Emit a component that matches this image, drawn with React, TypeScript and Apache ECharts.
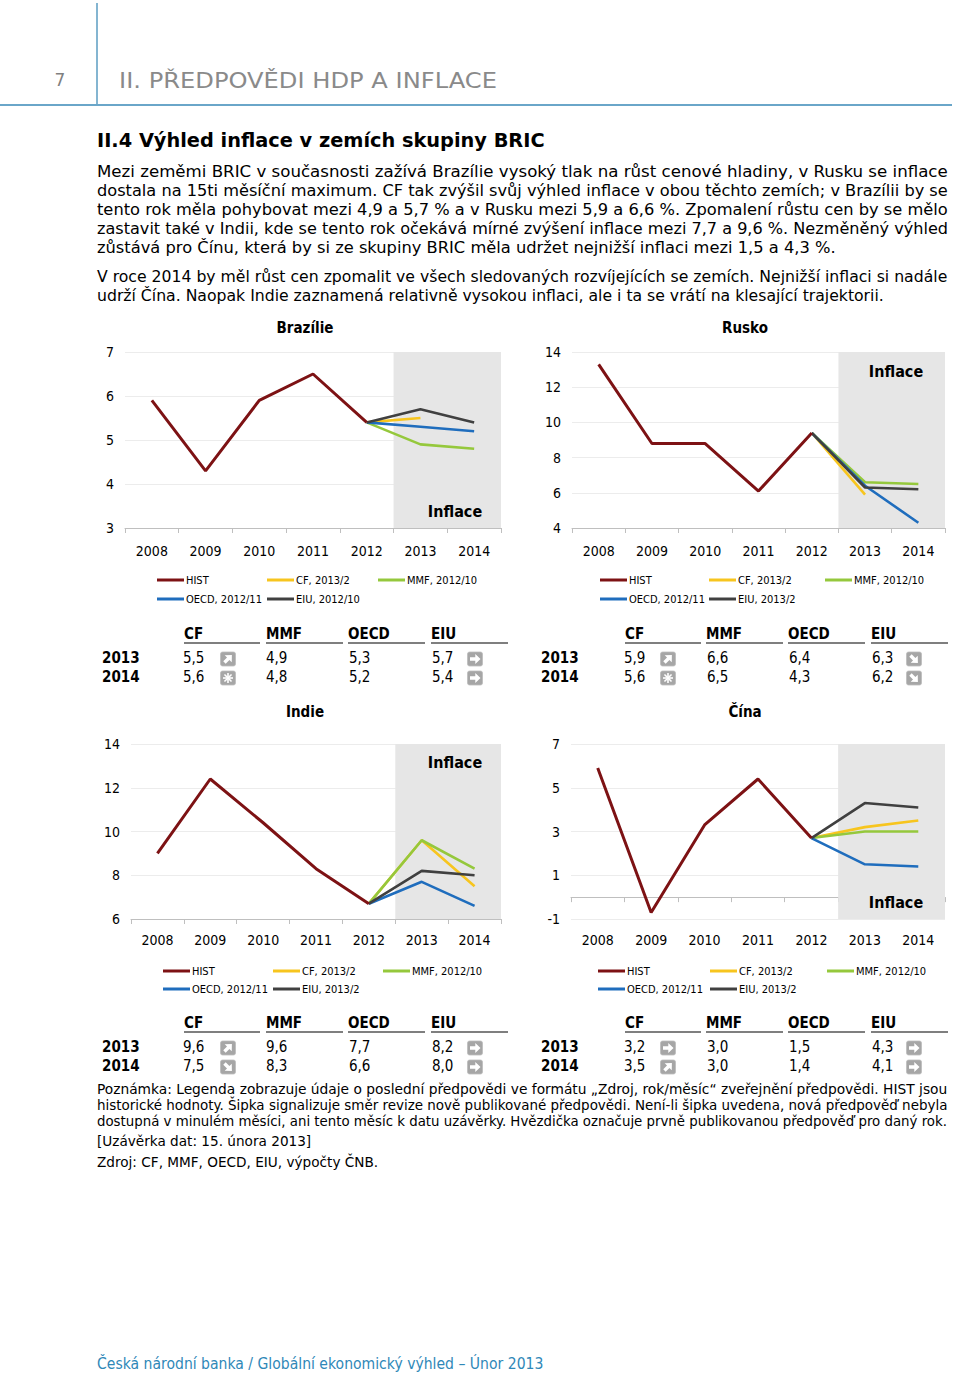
import React, { useEffect, useRef } from 'react';
import * as echarts from 'echarts';

// ---------- DATA ----------
const years = ['2008', '2009', '2010', '2011', '2012', '2013', '2014'];
const countryNames = ['Brazílie', 'Rusko', 'Indie', 'Čína'];

const histBrazil = [5.9, 4.3, 5.9, 6.5, 5.4];
const histRussia = [13.3, 8.8, 8.8, 6.1, 9.4];
const histIndia = [9.0, 12.4, 10.4, 8.3, 6.7];
const histChina = [5.9, -0.7, 3.3, 5.4, 2.7];

// forecasts drawn in the charts: [2013, 2014]
const cfBrazil = [5.5, null];
const mmfBrazil = [4.9, 4.8];
const oecdBrazil = [5.3, 5.2];
const eiuBrazil = [5.7, 5.4];
const cfRussia = [5.9, null];
const mmfRussia = [6.6, 6.5];
const oecdRussia = [6.4, 4.3];
const eiuRussia = [6.3, 6.2];
const cfIndia = [9.6, 7.5];
const mmfIndia = [9.6, 8.3];
const oecdIndia = [7.7, 6.6];
const eiuIndia = [8.2, 8.0];
const cfChina = [3.2, 3.5];
const mmfChina = [3.0, 3.0];
const oecdChina = [1.5, 1.4];
const eiuChina = [4.3, 4.1];

// y axis ticks
const yTicksBrazil = [3, 4, 5, 6, 7];
const yTicksRussia = [4, 6, 8, 10, 12, 14];
const yTicksIndia = [6, 8, 10, 12, 14];
const yTicksChina = [-1, 1, 3, 5, 7];

// legend labels
const legendHist = 'HIST';
const legendCF = 'CF, 2013/2';
const legendMMF = 'MMF, 2012/10';
const legendOECD = 'OECD, 2012/11';
const legendEIU = ['EIU, 2012/10', 'EIU, 2013/2', 'EIU, 2013/2', 'EIU, 2013/2'];

// tables: columns CF, MMF, OECD, EIU
const tableCols = ['CF', 'MMF', 'OECD', 'EIU'];
const tableRows = ['2013', '2014'];
const tblBrazil2013 = [5.5, 4.9, 5.3, 5.7];
const tblBrazil2014 = [5.6, 4.8, 5.2, 5.4];
const tblRussia2013 = [5.9, 6.6, 6.4, 6.3];
const tblRussia2014 = [5.6, 6.5, 4.3, 6.2];
const tblIndia2013 = [9.6, 9.6, 7.7, 8.2];
const tblIndia2014 = [7.5, 8.3, 6.6, 8.0];
const tblChina2013 = [3.2, 3.0, 1.5, 4.3];
const tblChina2014 = [3.5, 3.0, 1.4, 4.1];

// revision icons [2013, 2014]
const revBrazilCF = ['up', 'new'];
const revBrazilEIU = ['right', 'right'];
const revRussiaCF = ['up', 'new'];
const revRussiaEIU = ['down', 'down'];
const revIndiaCF = ['up', 'down'];
const revIndiaEIU = ['right', 'right'];
const revChinaCF = ['right', 'up'];
const revChinaEIU = ['right', 'right'];

// texts
const pageNumber = '7';
const chapterTitle = 'II. PŘEDPOVĚDI HDP A INFLACE';
const sectionTitle = 'II.4 Výhled inflace v zemích skupiny BRIC';
const para1 = [
  'Mezi zeměmi BRIC v současnosti zažívá Brazílie vysoký tlak na růst cenové hladiny, v Rusku se inflace',
  'dostala na 15ti měsíční maximum. CF tak zvýšil svůj výhled inflace v obou těchto zemích; v Brazílii by se',
  'tento rok měla pohybovat mezi 4,9 a 5,7 % a v Rusku mezi 5,9 a 6,6 %. Zpomalení růstu cen by se mělo',
  'zastavit také v Indii, kde se tento rok očekává mírné zvýšení inflace mezi 7,7 a 9,6 %. Nezměněný výhled',
  'zůstává pro Čínu, která by si ze skupiny BRIC měla udržet nejnižší inflaci mezi 1,5 a 4,3 %.',
];
const para2 = [
  'V roce 2014 by měl růst cen zpomalit ve všech sledovaných rozvíjejících se zemích. Nejnižší inflaci si nadále',
  'udrží Čína. Naopak Indie zaznamená relativně vysokou inflaci, ale i ta se vrátí na klesající trajektorii.',
];
const notes = [
  'Poznámka: Legenda zobrazuje údaje o poslední předpovědi ve formátu „Zdroj, rok/měsíc“ zveřejnění předpovědi. HIST jsou',
  'historické hodnoty. Šipka signalizuje směr revize nově publikované předpovědi. Není-li šipka uvedena, nová předpověď nebyla',
  'dostupná v minulém měsíci, ani tento měsíc k datu uzávěrky. Hvězdička označuje prvně publikovanou předpověď pro daný rok.',
];
const closingDate = '[Uzávěrka dat: 15. února 2013]';
const sourceText = 'Zdroj: CF, MMF, OECD, EIU, výpočty ČNB.';
const footerText = 'Česká národní banka / Globální ekonomický výhled – Únor 2013';
const bandLabel = 'Inflace';

// ---------- STYLE / LAYOUT ----------
const COND = "'DejaVu Sans Condensed', 'DejaVu Sans', sans-serif";
const REG = "'DejaVu Sans', Verdana, sans-serif";
const C_HIST = '#7d1214';
const C_CF = '#f7c51e';
const C_MMF = '#95c83c';
const C_OECD = '#1f6dbd';
const C_EIU = '#404040';
const BAND = '#e6e6e6';

const layouts = [
  { grid: { left: 125, top: 352, width: 376, height: 176 }, title: [305, 328], band: [455, 511], legX: [157, 267, 378], legY: [580, 599], tabY: [634, 658, 677], rowX: 102, colX: [184, 266, 348, 431], colEnd: [260, 343, 425, 508], valX: [183, 266, 349, 432], iconX: [228, 475], labelMargin: 16 },
  { grid: { left: 572, top: 352, width: 373, height: 176 }, title: [745, 328], band: [896, 371], legX: [600, 709, 825], legY: [580, 599], tabY: [634, 658, 677], rowX: 541, colX: [625, 706, 788, 871], colEnd: [701, 783, 865, 948], valX: [624, 707, 789, 872], iconX: [668, 914], labelMargin: 16 },
  { grid: { left: 131, top: 744, width: 370, height: 175 }, title: [305, 712], band: [455, 762], legX: [163, 273, 383], legY: [971, 989], tabY: [1023, 1047, 1066], rowX: 102, colX: [184, 266, 348, 431], colEnd: [260, 343, 425, 508], valX: [183, 266, 349, 432], iconX: [228, 475], labelMargin: 14 },
  { grid: { left: 571, top: 744, width: 374, height: 175 }, title: [745, 712], band: [896, 902], legX: [598, 710, 827], legY: [971, 989], tabY: [1023, 1047, 1066], rowX: 541, colX: [625, 706, 788, 871], colEnd: [701, 783, 865, 948], valX: [624, 707, 789, 872], iconX: [668, 914], labelMargin: 14 },
];

// ---------- helpers ----------
let measureCtx: CanvasRenderingContext2D | null = null;
function measure(text: string, font: string) {
  if (!measureCtx) measureCtx = document.createElement('canvas').getContext('2d');
  measureCtx!.font = font;
  return measureCtx!.measureText(text).width;
}
function clamp(v: number, a: number, b: number) {
  return Math.max(a, Math.min(b, v));
}
function fmt(v: number) {
  return v.toFixed(1).replace('.', ',');
}
function txt(text: string, x: number, y: number, o: any = {}) {
  return {
    type: 'text', x, y, scaleX: o.scaleX ?? 1, silent: true, z: 10,
    style: {
      text, fill: o.fill ?? '#000', fontSize: o.size ?? 15, fontFamily: o.family ?? COND,
      fontWeight: o.weight ?? 'normal', align: o.align ?? 'left', verticalAlign: 'middle',
    },
  };
}
// justified paragraph: every line but the last is stretched to the full width
function paragraph(lines: string[], x: number, y0: number, dy: number, size: number, width: number) {
  const font = `normal ${size}px ${COND}`;
  const scales = lines.map((l) => clamp(width / measure(l, font), 0.8, 1.3));
  const just = scales.slice(0, -1);
  const avg = just.length ? just.reduce((a, b) => a + b, 0) / just.length : 1;
  const els = lines.map((l, i) =>
    txt(l, x, y0 + i * dy, { size, scaleX: i < lines.length - 1 ? scales[i] : Math.min(avg, scales[i]) })
  );
  return { els, avg };
}
function icon(kind: string, x: number, y: number) {
  const children: any[] = [
    { type: 'rect', shape: { x: -7.5, y: -7, width: 15, height: 14, r: 2 }, style: { fill: '#a6a6a6', stroke: '#bdbdbd', lineWidth: 0.8 } },
  ];
  const arrowPts = [[-5, -1.7], [0.3, -1.7], [0.3, -5], [5.5, 0], [0.3, 5], [0.3, 1.7], [-5, 1.7]];
  if (kind === 'new') {
    [0, Math.PI / 4, Math.PI / 2, (3 * Math.PI) / 4].forEach((a) => {
      children.push({
        type: 'line',
        shape: { x1: -5 * Math.cos(a), y1: -5 * Math.sin(a), x2: 5 * Math.cos(a), y2: 5 * Math.sin(a) },
        style: { stroke: '#fff', lineWidth: 1.6 },
      });
    });
  } else {
    const rot = kind === 'up' ? Math.PI / 4 : kind === 'down' ? -Math.PI / 4 : 0;
    children.push({ type: 'polygon', rotation: rot, shape: { points: arrowPts }, style: { fill: '#fff' } });
  }
  return { type: 'group', x, y, silent: true, z: 10, children };
}

function buildOption() {
  const hists = [histBrazil, histRussia, histIndia, histChina];
  const fcs = [
    [cfBrazil, mmfBrazil, oecdBrazil, eiuBrazil],
    [cfRussia, mmfRussia, oecdRussia, eiuRussia],
    [cfIndia, mmfIndia, oecdIndia, eiuIndia],
    [cfChina, mmfChina, oecdChina, eiuChina],
  ];
  const ticks = [yTicksBrazil, yTicksRussia, yTicksIndia, yTicksChina];
  const tabs = [
    [tblBrazil2013, tblBrazil2014], [tblRussia2013, tblRussia2014],
    [tblIndia2013, tblIndia2014], [tblChina2013, tblChina2014],
  ];
  const revs = [
    [revBrazilCF, revBrazilEIU], [revRussiaCF, revRussiaEIU],
    [revIndiaCF, revIndiaEIU], [revChinaCF, revChinaEIU],
  ];
  const colors = [C_CF, C_MMF, C_OECD, C_EIU];

  const grid: any[] = [];
  const xAxis: any[] = [];
  const yAxis: any[] = [];
  const series: any[] = [];
  const legend: any[] = [];
  const graphic: any[] = [];

  layouts.forEach((L, i) => {
    grid.push({ ...L.grid, containLabel: false });
    xAxis.push({
      type: 'category', gridIndex: i, data: years, boundaryGap: true,
      axisLine: { lineStyle: { color: '#bfbfbf', width: 1 } },
      axisTick: { show: true, length: 5, lineStyle: { color: '#bfbfbf' }, interval: 0 },
      axisLabel: { color: '#000', fontSize: 14, fontFamily: COND, margin: L.labelMargin, interval: 0 },
      splitLine: { show: false },
    });
    xAxis.push({ type: 'value', gridIndex: i, min: 0, max: years.length, show: false });
    const t = ticks[i];
    yAxis.push({
      type: 'value', gridIndex: i, min: t[0], max: t[t.length - 1],
      axisLine: { show: false },
      axisTick: { show: false, customValues: t },
      axisLabel: { color: '#000', fontSize: 14, fontFamily: COND, margin: 11, customValues: t },
      splitLine: { show: true, lineStyle: { color: '#ececec', width: 1 } },
    });
    // forecast band (2013–2014)
    series.push({
      type: 'line', xAxisIndex: 2 * i + 1, yAxisIndex: i, data: [], silent: true, z: 1,
      markArea: { silent: true, itemStyle: { color: BAND }, data: [[{ xAxis: 5 }, { xAxis: years.length }]] },
    });
    const h = hists[i];
    const names = [legendCF, legendMMF, legendOECD, legendEIU[i]];
    series.push({
      name: legendHist, type: 'line', xAxisIndex: 2 * i, yAxisIndex: i, z: 4,
      data: [...h, null, null], symbol: 'none', connectNulls: false,
      lineStyle: { color: C_HIST, width: 3 }, itemStyle: { color: C_HIST },
    });
    fcs[i].forEach((f, k) => {
      series.push({
        name: names[k], type: 'line', xAxisIndex: 2 * i, yAxisIndex: i, z: 3,
        data: [null, null, null, null, h[h.length - 1], ...f], symbol: 'none', connectNulls: false,
        lineStyle: { color: colors[k], width: 2.6 }, itemStyle: { color: colors[k] },
      });
    });
    // legends
    const legItems = [
      [legendHist, L.legX[0], L.legY[0]], [legendCF, L.legX[1], L.legY[0]], [legendMMF, L.legX[2], L.legY[0]],
      [legendOECD, L.legX[0], L.legY[1]], [legendEIU[i], L.legX[1], L.legY[1]],
    ];
    legItems.forEach(([n, x, y]) => {
      legend.push({
        data: [n], left: x, top: (y as number) - 7, padding: 0, itemGap: 0, icon: 'rect',
        itemWidth: 27, itemHeight: 3, selectedMode: false,
        textStyle: { fontSize: 11, fontFamily: COND, color: '#000', lineHeight: 14, padding: [0, 0, 0, -3] },
      });
    });
    // chart title & band label
    graphic.push(txt(countryNames[i], L.title[0], L.title[1], { weight: 'bold', size: 15, align: 'center' }));
    graphic.push(txt(bandLabel, L.band[0], L.band[1], { weight: 'bold', size: 16, align: 'center' }));
    // table
    tableCols.forEach((c, k) => {
      graphic.push(txt(c, L.colX[k], L.tabY[0], { weight: 'bold', size: 15 }));
      graphic.push({ type: 'line', silent: true, shape: { x1: L.colX[k], y1: L.tabY[0] + 9, x2: L.colEnd[k], y2: L.tabY[0] + 9 }, style: { stroke: '#000', lineWidth: 1.2 } });
    });
    tableRows.forEach((r, j) => {
      const y = L.tabY[j + 1];
      graphic.push(txt(r, L.rowX, y, { weight: 'bold', size: 15 }));
      tabs[i][j].forEach((v, k) => graphic.push(txt(fmt(v), L.valX[k], y, { size: 15 })));
      graphic.push(icon(revs[i][0][j], L.iconX[0], y + 1));
      graphic.push(icon(revs[i][1][j], L.iconX[1], y + 1));
    });
  });

  // page header
  graphic.push({ type: 'line', silent: true, shape: { x1: 97, y1: 3, x2: 97, y2: 104 }, style: { stroke: '#5b9cc2', lineWidth: 1.5 } });
  graphic.push({ type: 'line', silent: true, shape: { x1: 0, y1: 105, x2: 952, y2: 105 }, style: { stroke: '#6aa6c9', lineWidth: 2 } });
  graphic.push(txt(pageNumber, 60, 80, { size: 17, family: REG, fill: '#808080', align: 'center' }));
  const titleFont = `normal 22px ${REG}`;
  graphic.push(txt(chapterTitle, 119, 80, { size: 22, family: REG, fill: '#8a8a8a', scaleX: clamp(378 / measure(chapterTitle, titleFont), 0.85, 1.15) }));
  const secFont = `bold 20px ${COND}`;
  graphic.push(txt(sectionTitle, 97, 140, { size: 20, weight: 'bold', scaleX: clamp(448 / measure(sectionTitle, secFont), 0.85, 1.15) }));
  graphic.push(...paragraph(para1, 97, 171, 19, 16, 851).els);
  graphic.push(...paragraph(para2, 97, 276, 19, 16, 851).els);
  const n = paragraph(notes, 97, 1089, 16, 14, 851);
  graphic.push(...n.els);
  graphic.push(txt(closingDate, 97, 1141, { size: 14, scaleX: n.avg }));
  graphic.push(txt(sourceText, 97, 1162, { size: 14, scaleX: n.avg }));
  const footFont = `normal 15px ${REG}`;
  graphic.push(txt(footerText, 97, 1364, { size: 15, family: REG, fill: '#2f88b8', scaleX: clamp(447 / measure(footerText, footFont), 0.85, 1.15) }));

  return {
    animation: false,
    backgroundColor: '#fff',
    textStyle: { fontFamily: COND },
    grid, xAxis, yAxis, series, legend,
    graphic: { elements: graphic },
  };
}

export default function App() {
  const ref = useRef<HTMLDivElement>(null);
  useEffect(() => {
    const chart = echarts.init(ref.current!, null, { renderer: 'svg' });
    chart.setOption(buildOption() as any);
    return () => chart.dispose();
  }, []);
  return <div ref={ref} style={{ position: 'absolute', left: 0, top: 0, width: 960, height: 1377 }} />;
}
